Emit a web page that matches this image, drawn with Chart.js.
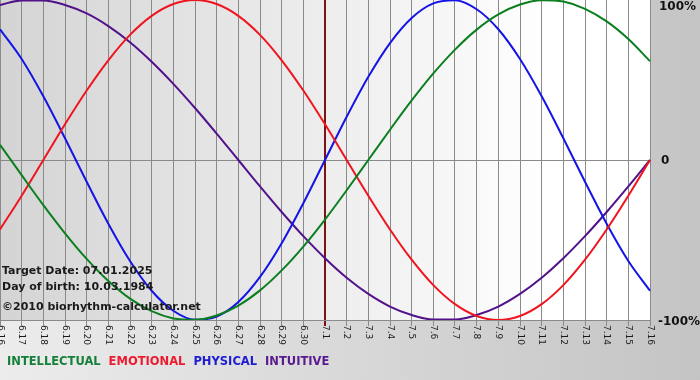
<!DOCTYPE html>
<html>
<head>
<meta charset="utf-8">
<script src="https://cdn.jsdelivr.net/npm/chart.js@4.4.1/dist/chart.umd.min.js"></script>
<style>
  html, body { margin: 0; padding: 0; background: #c8c8c8; }
  #wrap { width: 700px; height: 380px; position: relative; }
</style>
</head>
<body>
<div id="wrap"><canvas id="bioChart" width="700" height="380"></canvas></div>
<script>
// days shown on the x axis
const days = ['6.16','6.17','6.18','6.19','6.20','6.21','6.22','6.23','6.24','6.25','6.26','6.27','6.28','6.29','6.30',
              '7.1','7.2','7.3','7.4','7.5','7.6','7.7','7.8','7.9','7.10','7.11','7.12','7.13','7.14','7.15','7.16'];

// cycle values in percent
const intellectual = [9.5, -9.5, -28.2, -45.8, -61.8, -75.6, -86.6, -94.5, -99.0, -99.9, -97.2, -91.0, -81.5, -69.0, -54.1, -37.2,
                      -18.9, 0, 18.9, 37.2, 54.1, 69.0, 81.5, 91.0, 97.2, 99.9, 99.0, 94.5, 86.6, 75.6, 61.8];
const emotional = [-43.4, -22.3, 0, 22.3, 43.4, 62.3, 78.2, 90.1, 97.5, 100, 97.5, 90.1, 78.2, 62.3, 43.4, 22.3,
                   0, -22.3, -43.4, -62.3, -78.2, -90.1, -97.5, -100, -97.5, -90.1, -78.2, -62.3, -43.4, -22.3, 0];
const physical = [81.7, 63.1, 39.8, 13.6, -13.6, -39.8, -63.1, -81.7, -94.2, -99.8, -97.9, -88.8, -73.1, -52.0, -27.0, 0,
                  27.0, 52.0, 73.1, 88.8, 97.9, 99.8, 94.2, 81.7, 63.1, 39.8, 13.6, -13.6, -39.8, -63.1, -81.7];
const intuitive = [96.9, 99.7, 99.7, 96.9, 91.6, 83.7, 73.6, 61.4, 47.6, 32.5, 16.5, 0, -16.5, -32.5, -47.6, -61.4,
                   -73.6, -83.7, -91.6, -96.9, -99.7, -99.7, -96.9, -91.6, -83.7, -73.6, -61.4, -47.6, -32.5, -16.5, 0];

const yTicks = ['100%', '0', '-100%'];
const targetDay = '7.1';
const infoLines = ['Target Date: 07.01.2025', 'Day of birth: 10.03.1984'];
const copyright = '\u00a92010 biorhythm-calculator.net';

// colours
const greenColor = '#0b7f1f';
const redColor = '#f0141e';
const blueColor = '#1414e6';
const purpleColor = '#52128a';

const legendItems = [
    { text: 'INTELLECTUAL', color: '#15803a' },
    { text: 'EMOTIONAL', color: '#ee1b2e' },
    { text: 'PHYSICAL', color: '#1c1cd0' },
    { text: 'INTUITIVE', color: '#581a8e' }
];

const fontFamily = '"DejaVu Sans", Verdana, sans-serif';

// backgrounds, custom labels and the text block
const bioPlugin = {
    id: 'bioDecor',
    beforeDraw(chart) {
        const ctx = chart.ctx;
        const a = chart.chartArea;
        ctx.save();
        let g = ctx.createLinearGradient(0, 0, chart.width, 0);
        g.addColorStop(0, '#ececec');
        g.addColorStop(1, '#c4c4c4');
        ctx.fillStyle = g;
        ctx.fillRect(0, 0, chart.width, chart.height);
        let p = ctx.createLinearGradient(a.left, 0, a.right, 0);
        p.addColorStop(0, '#d4d4d4');
        p.addColorStop(0.85, '#ffffff');
        p.addColorStop(1, '#ffffff');
        ctx.fillStyle = p;
        ctx.fillRect(a.left, a.top, a.right - a.left, a.bottom - a.top);
        ctx.restore();
    },
    afterDraw(chart) {
        const ctx = chart.ctx;
        const a = chart.chartArea;
        const xs = chart.scales.x;
        const ys = chart.scales.y;
        ctx.save();

        // x labels, rotated to read top-down
        ctx.fillStyle = '#1a1a1a';
        ctx.font = '9px ' + fontFamily;
        ctx.textAlign = 'left';
        ctx.textBaseline = 'middle';
        days.forEach((d, i) => {
            const x = xs.getPixelForValue(i);
            ctx.save();
            ctx.translate(x, a.bottom + 5);
            ctx.rotate(Math.PI / 2);
            ctx.fillText(d, 0, 0);
            ctx.restore();
        });

        // y labels on the right
        ctx.font = 'bold 12px ' + fontFamily;
        ctx.fillStyle = '#111';
        ctx.textBaseline = 'middle';
        ctx.fillText(yTicks[0], a.right + 9, ys.getPixelForValue(100) + 7);
        ctx.fillText(yTicks[1], a.right + 11, ys.getPixelForValue(0) + 1);
        ctx.fillText(yTicks[2], a.right + 8, ys.getPixelForValue(-100) + 2);

        // info text
        ctx.font = 'bold 11px ' + fontFamily;
        ctx.fillStyle = '#1a1a1a';
        ctx.fillText(infoLines[0], 2, 271);
        ctx.fillText(infoLines[1], 2, 287);
        ctx.fillText(copyright, 2, 307);

        // legend at the bottom
        let lx = 7;
        ctx.font = 'bold 11.5px ' + fontFamily;
        legendItems.forEach(item => {
            ctx.fillStyle = item.color;
            ctx.fillText(item.text, lx, 362);
            lx += ctx.measureText(item.text).width + 8;
        });
        ctx.restore();
    }
};

const ctx = document.getElementById('bioChart').getContext('2d');

const lineStyle = { borderWidth: 2, pointRadius: 0, cubicInterpolationMode: 'monotone', fill: false };

new Chart(ctx, {
    type: 'line',
    data: {
        labels: days,
        datasets: [
            { label: 'INTELLECTUAL', data: intellectual, borderColor: greenColor, ...lineStyle },
            { label: 'EMOTIONAL', data: emotional, borderColor: redColor, ...lineStyle },
            { label: 'PHYSICAL', data: physical, borderColor: blueColor, ...lineStyle },
            { label: 'INTUITIVE', data: intuitive, borderColor: purpleColor, ...lineStyle }
        ]
    },
    options: {
        responsive: false,
        animation: false,
        layout: { padding: { left: 0, top: 0, right: 50, bottom: 54 } },
        plugins: {
            legend: { display: false },
            tooltip: { enabled: false },
            title: { display: false }
        },
        scales: {
            x: {
                offset: false,
                ticks: { display: false },
                grid: {
                    color: c => (c.tick && c.tick.label === targetDay) ? '#7a1414' : '#8a8a8a',
                    lineWidth: c => (c.tick && c.tick.label === targetDay) ? 2 : 1,
                    tickLength: 6,
                    drawTicks: true
                },
                border: { display: true, color: '#8a8a8a' }
            },
            y: {
                position: 'right',
                min: -100,
                max: 100,
                ticks: { display: false, stepSize: 100 },
                grid: {
                    color: c => c.tick.value === 100 ? 'rgba(0,0,0,0)' : '#8a8a8a',
                    drawTicks: false
                },
                border: { display: true, color: '#8a8a8a' }
            }
        }
    },
    plugins: [bioPlugin]
});
</script>
</body>
</html>
